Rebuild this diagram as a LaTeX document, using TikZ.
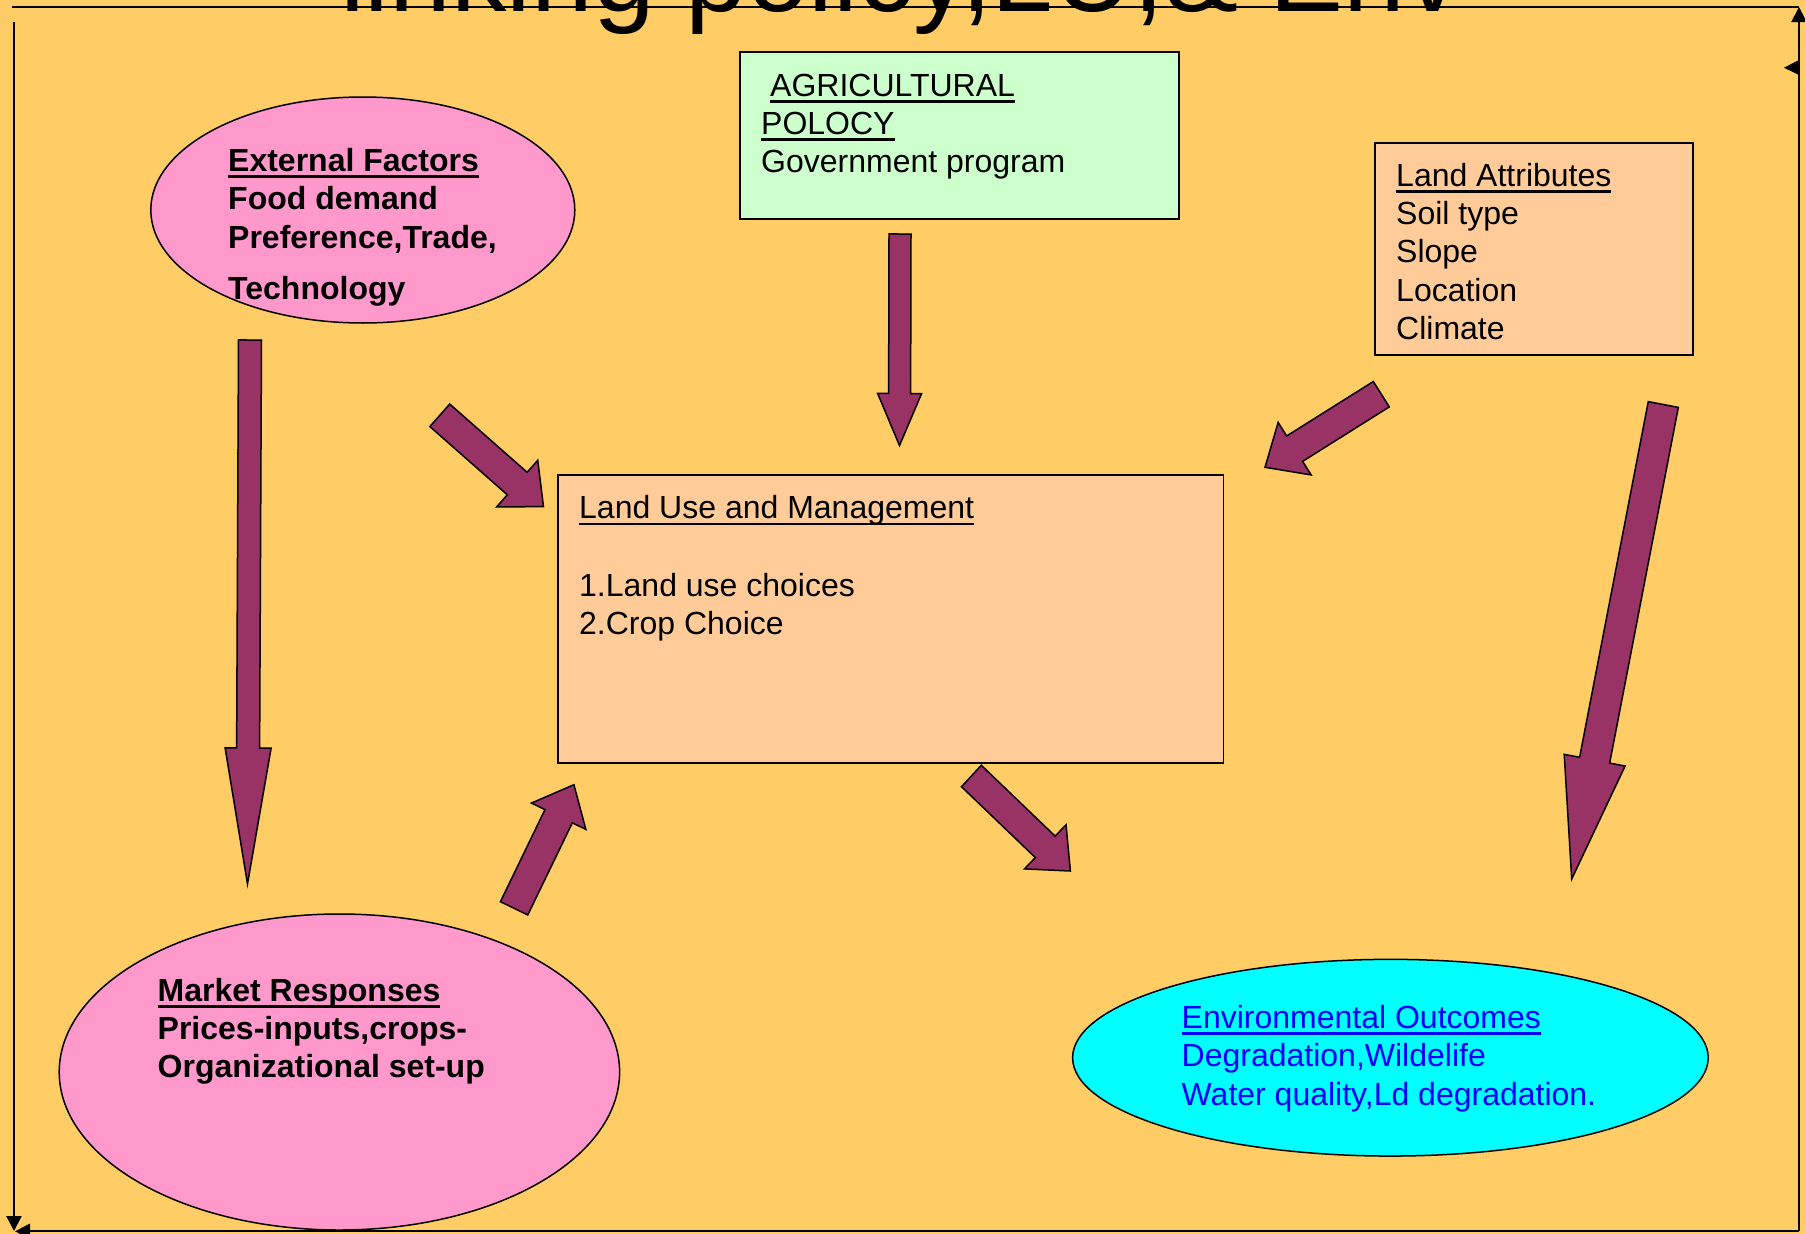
\documentclass[tikz,border=0pt]{standalone}
\usepackage{fontspec}
\setmainfont{Liberation Sans}
\usetikzlibrary{shapes.geometric,calc,arrows.meta}
\definecolor{bgc}{HTML}{FFCC66}
\definecolor{pinkc}{HTML}{FF99CC}
\definecolor{peachc}{HTML}{FFCC99}
\definecolor{greenc}{HTML}{CCFFCC}
\definecolor{cyanc}{HTML}{00FFFF}
\definecolor{arrowc}{HTML}{993366}
\definecolor{envtext}{HTML}{0000FF}
\newsavebox\myulbox
\newcommand\myul[1]{\sbox\myulbox{#1}\rlap{\rule[-6.5pt]{\wd\myulbox}{2.2pt}}\usebox\myulbox}
\newcommand\barrowdraw[5]{%
  \path[barrow] let \p1=(#1), \p2=(#2),
    \n1={atan2(\y2-\y1,\x2-\x1)}, \n2={veclen(\x2-\x1,\y2-\y1)} in
    (\p1) ++(\n1+90:#3) -- ++(\n1:\n2-#5) -- ++(\n1+90:#4-#3) -- (\p2)
    -- ($(\p2)+(\n1+180:#5)+(\n1-90:#4)$) -- ++(\n1+90:#4-#3)
    -- ++(\n1+180:\n2-#5) -- cycle;}
\begin{document}
\begin{tikzpicture}[x=1pt,y=1pt,
  txt/.style={anchor=base west, inner sep=0pt, font=\fontsize{32}{38}\selectfont},
  btxt/.style={txt, font=\fontsize{32}{38}\selectfont\bfseries},
  etxt/.style={txt, text=envtext},
  boxshape/.style={rectangle, draw=black, line width=1.5pt, inner sep=0pt},
  ellshape/.style={ellipse, draw=black, line width=1.5pt, inner sep=0pt},
  barrow/.style={fill=arrowc, draw=black, line width=1.5pt, line join=miter},
  frame/.style={draw=black, line width=2.2pt},
  ftip/.style={-{Triangle[width=15pt,length=15pt]}}]
\clip (0,0) rectangle (1805,-1234);
\fill[bgc] (0,0) rectangle (1805,-1234);

% title (clipped at top, as in the original)
\node[anchor=base west, inner sep=0pt, font=\fontsize{111}{113}\selectfont] (title) at (340,-11) {linking policy,LU,\& Env};

% frame
\coordinate (ftl) at (12,-7);
\coordinate (ftr) at (1799,-7);
\coordinate (fbr) at (1799,-1231.3);
\coordinate (fls) at (14,-22);
\coordinate (fle) at (14,-1231);
\coordinate (fbe) at (15,-1231.3);
\draw[frame] (ftl) -- (ftr);
\draw[frame, ftip] (fls) -- (fle);
\draw[frame, ftip] (fbr) -- (fbe);
\draw[frame, ftip] (fbr) -- (ftr);
\fill[black] (1784,-67.7) -- (1799,-60) -- (1799,-75) -- cycle;

% shapes
\node[boxshape, fill=greenc, minimum width=439pt, minimum height=167pt] (agri) at (959.5,-135.5) {};
\node[boxshape, fill=peachc, minimum width=318pt, minimum height=212pt] (attr) at (1534.2,-248.9) {};
\node[boxshape, fill=peachc, minimum width=665.6pt, minimum height=288.2pt] (lum) at (890.8,-619.1) {};
\node[ellshape, fill=pinkc, minimum width=424pt, minimum height=226pt] (ext) at (362.8,-210) {};
\node[ellshape, fill=pinkc, minimum width=560.4pt, minimum height=316pt] (mkt) at (339.4,-1072) {};
\node[ellshape, fill=cyanc, minimum width=635.6pt, minimum height=196.7pt] (env) at (1390.4,-1057.7) {};

% texts
\node[txt] (agri1) at (770,-96) {\myul{AGRICULTURAL}};
\node[txt] (agri2) at (761,-134) {\myul{POLOCY}};
\node[txt] (agri3) at (761,-172) {Government program};

\node[btxt] (ext1) at (228,-171) {\myul{External Factors}};
\node[btxt] (ext2) at (228,-209) {Food demand};
\node[btxt] (ext3) at (228,-248) {Preference,Trade,};
\node[btxt] (ext4) at (228,-299) {Technology};

\node[txt] (attr1) at (1396,-186) {\myul{Land Attributes}};
\node[txt] (attr2) at (1396,-224.5) {Soil type};
\node[txt] (attr3) at (1396,-262.5) {Slope};
\node[txt] (attr4) at (1396,-301) {Location};
\node[txt] (attr5) at (1396,-339.5) {Climate};

\node[txt] (lum1) at (579,-518.5) {\myul{Land Use and Management}};
\node[txt] (lum2) at (579,-596.5) {1.Land use choices};
\node[txt] (lum3) at (579,-634.5) {2.Crop Choice};

\node[btxt] (mkt1) at (157.5,-1001) {\myul{Market Responses}};
\node[btxt] (mkt2) at (157.5,-1039) {Prices-inputs,crops-};
\node[btxt] (mkt3) at (157.5,-1077) {Organizational set-up};

\node[etxt] (env1) at (1181.5,-1028) {\myul{Environmental Outcomes}};
\node[etxt] (env2) at (1181.5,-1066.5) {Degradation,Wildelife};
\node[etxt] (env3) at (1181.5,-1105) {Water quality,Ld degradation.};

% block arrows
\coordinate (aT) at (250,-340);      \coordinate (aH) at (247.5,-884);
\coordinate (bT) at (900,-234);      \coordinate (bH) at (899.5,-445.5);
\coordinate (cT) at (439.8,-415.3);  \coordinate (cH) at (543.5,-506.7);
\coordinate (dT) at (1381.3,-394.2); \coordinate (dH) at (1265,-467.3);
\coordinate (eT) at (1663.3,-404.5); \coordinate (eH) at (1571.7,-879);
\coordinate (fT) at (514.1,-908.3);  \coordinate (fH) at (573.9,-784.7);
\coordinate (gT) at (971.2,-775.8);  \coordinate (gH) at (1070.4,-871);
\barrowdraw{aT}{aH}{11.5}{23}{136}
\barrowdraw{bT}{bH}{11}{22}{52}
\barrowdraw{cT}{cH}{15}{31}{35}
\barrowdraw{dT}{dH}{15}{31}{35}
\barrowdraw{eT}{eH}{15.3}{31}{121}
\barrowdraw{fT}{fH}{15.2}{30.2}{35}
\barrowdraw{gT}{gH}{14.6}{30.3}{34.6}
\end{tikzpicture}
\end{document}
